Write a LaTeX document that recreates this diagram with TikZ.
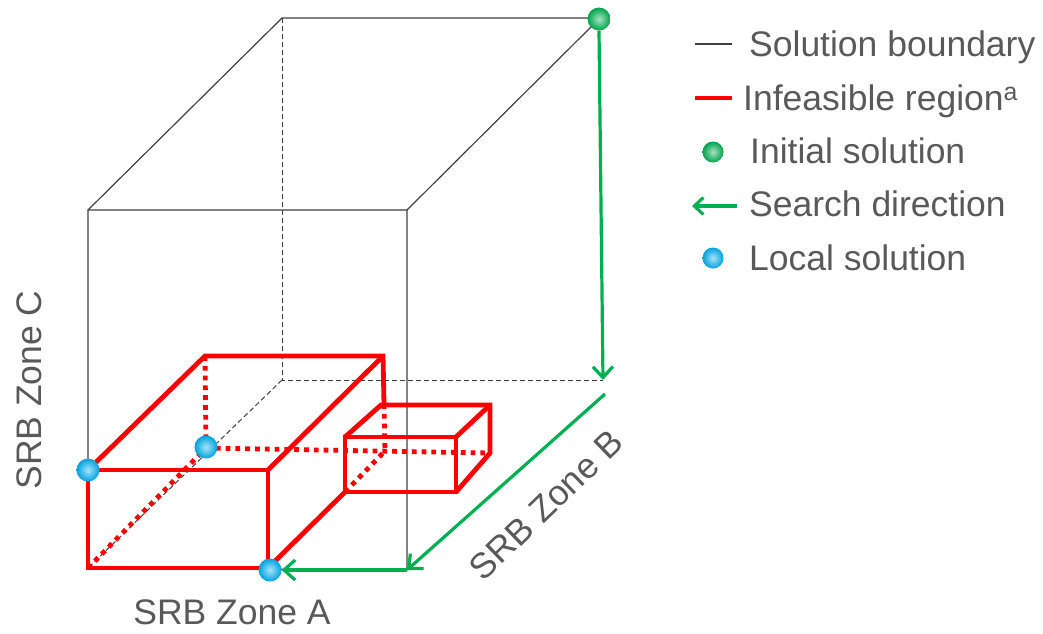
\documentclass[tikz,border=0pt]{standalone}
\usepackage{fontspec}
\setmainfont{Liberation Sans}
\usetikzlibrary{arrows.meta}
\definecolor{txt}{HTML}{595959}
\definecolor{grn}{HTML}{00B050}
\definecolor{blu}{HTML}{00B0F0}
\definecolor{red}{HTML}{FF0000}
\begin{document}
\begin{tikzpicture}[x=1pt,y=-1pt,
  bound/.style={draw=black!75,line width=1.2pt},
  hidden/.style={draw=black!75,line width=1pt,dash pattern=on 5pt off 3pt},
  infeas/.style={draw=red,line width=4.8pt,line join=miter},
  infdot/.style={draw=red,line width=4.8pt,dash pattern=on 4.8pt off 5pt},
  search/.style={draw=grn,line width=3.2pt,-{Straight Barb[length=11pt,width=20pt]}},
  lbl/.style={text=txt,font=\fontsize{35.5}{40}\selectfont,inner sep=0pt},
  sphere/.style={circle,minimum size=23pt,inner sep=0pt,shading=radial,
     inner color=#1!35!white,outer color=#1!92!black},
  gball/.style={sphere=grn},
  bball/.style={sphere=blu}]
\useasboundingbox (0,0) rectangle (1043,633);
% main cube
\coordinate (F1) at (88,210); \coordinate (F2) at (407,210);
\coordinate (F3) at (407,570); \coordinate (F4) at (88,568);
\coordinate (B1) at (282,18); \coordinate (B2) at (600,18);
\coordinate (B3) at (603,380); \coordinate (B4) at (282,380);
\draw[hidden] (B1) -- (B4) -- (B3);
\draw[hidden] (B4) -- (F4);
\draw[bound] (F1) -- (F2) -- (F3) -- (F4) -- cycle;
\draw[bound] (F1) -- (B1) -- (B2);
\draw[bound] (F2) -- (B2);
% big red box
\coordinate (a1) at (88,470); \coordinate (a2) at (268,470);
\coordinate (a3) at (268,568); \coordinate (a4) at (88,568);
\coordinate (b1) at (205,356); \coordinate (b2) at (383,356);
\coordinate (b3) at (384,404); \coordinate (b4) at (385,451);
\coordinate (b5) at (206,448);
% small red box
\coordinate (s1) at (345,437); \coordinate (s2) at (456,437);
\coordinate (s3) at (456,492); \coordinate (s4) at (345,492);
\coordinate (t1) at (381,405); \coordinate (t2) at (490,405);
\coordinate (t3) at (490,453);
\draw[infdot] (b1) -- (b5);
\draw[infdot] (b5) -- (t3);
\draw[infdot] (a4) -- (b5);
\draw[infdot] (b3) -- (b4);
\draw[infdot] (s4) -- (b4);
\draw[infeas] (a4) -- (a1) -- (a2) -- (a3) -- cycle;
\draw[infeas] (a1) -- (b1) -- (b2) -- (b3);
\draw[infeas] (a2) -- (b2);
\draw[infeas] (a3) -- (s4);
\draw[infeas] (s1) -- (s2) -- (s3) -- (s4) -- cycle;
\draw[infeas] (s1) -- (t1) -- (t2) -- (t3) -- (s3);
\draw[infeas] (s2) -- (t2);
% search arrows
\node[gball] (init) at (599,19) {};
\node[bball] (l1) at (88,470) {};
\node[bball] (l2) at (206,447) {};
\node[bball] (l3) at (270,570) {};
\draw[search] (init.south) -- (B3);
\draw[search] ([xshift=2pt,yshift=-14pt]B3) -- (F3);
\draw[search] (F3) -- (l3.east);
% axis labels
\node[lbl,anchor=base] (za) at (232,624) {SRB Zone A};
\node[lbl,rotate=90] (zc) at (29,390) {SRB Zone C};
\node[lbl,rotate=44] (zb) at (546,505) {SRB Zone B};
% legend
\coordinate (k1a) at (695,44); \coordinate (k1b) at (732,44);
\draw[draw=black!75,line width=1.2pt] (k1a) -- (k1b);
\coordinate (k2a) at (695,98); \coordinate (k2b) at (732,98);
\draw[draw=red,line width=4.8pt] (k2a) -- (k2b);
\node[gball,minimum size=21pt] (k3) at (713,152) {};
\coordinate (k4a) at (737,206); \coordinate (k4b) at (692,206);
\draw[search,-{Straight Barb[length=9pt,width=17pt]}] (k4a) -- (k4b);
\node[bball,minimum size=21pt] (k5) at (713,258) {};
\node[lbl,anchor=base west] (t1l) at (749,56) {Solution boundary};
\node[lbl,anchor=base west] (t2l) at (743,110) {Infeasible region\textsuperscript{a}};
\node[lbl,anchor=base west] (t3l) at (750,163) {Initial solution};
\node[lbl,anchor=base west] (t4l) at (749,216) {Search direction};
\node[lbl,anchor=base west] (t5l) at (749,270) {Local solution};
\end{tikzpicture}
\end{document}
